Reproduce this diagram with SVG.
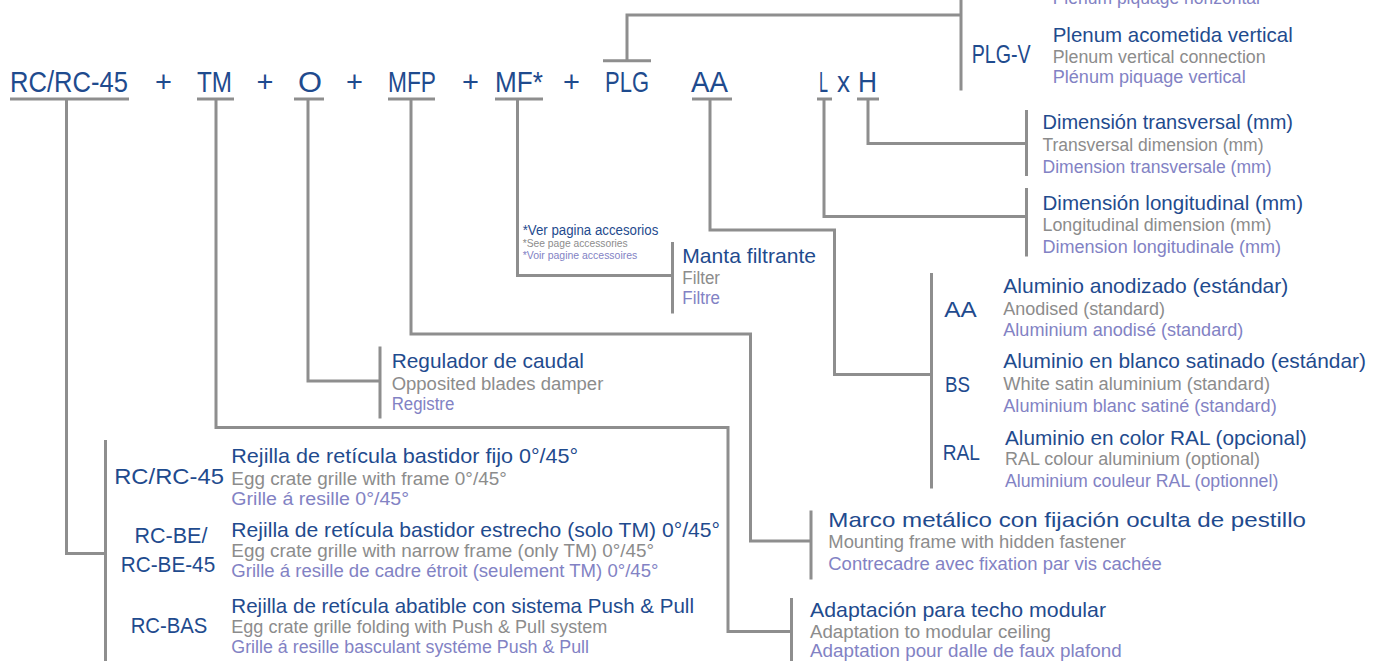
<svg xmlns="http://www.w3.org/2000/svg" width="1378" height="661" viewBox="0 0 1378 661">
<style>
text{font-family:"Liberation Sans",Arial,sans-serif}
.c{fill:#1f4b8e;font-size:29px}
.k{fill:#1f4b8e;font-size:22px}
.t{fill:#1f4b8e;font-size:21px}
.e{fill:#8c8c8c;font-size:17.5px}
.f{fill:#8282c4;font-size:17.5px}
.ln{fill:none;stroke:#8e8e8e;stroke-width:3}
</style>
<rect width="1378" height="661" fill="#fff"/>
<g id="connectors" class="ln">
<path d="M10 99H129M197 99H234M294 99H324M388 99H435M495 99H543M692 99H732M817 99H832M857 99H879M603 60.7H651"/>
<path d="M66.5 99V553.5H105.5M105.5 440V661"/>
<path d="M216 99V427.5H728V631.5H791.5M791.5 598V661"/>
<path d="M308 99V381H380M380 346.5V418.5"/>
<path d="M411 99V334H750.5V541H811M811 510.5V579.5"/>
<path d="M517.5 99V275.5H672.5M672.5 242V313.5"/>
<path d="M627 60.7V15H961M961 0V90.5"/>
<path d="M710 99V230H834.5V374.5H931.5M931.5 273V488.5"/>
<path d="M824 99V216.5H1026.5M868 99V143.5H1026.5M1026.5 110V176M1026.5 188V256.5"/>
</g>
<g id="code">
<text class="c" x="10" y="92" textLength="118" lengthAdjust="spacingAndGlyphs">RC/RC-45</text>
<text class="c" x="163.5" y="92" text-anchor="middle">+</text>
<text class="c" x="197" y="92" textLength="35" lengthAdjust="spacingAndGlyphs">TM</text>
<text class="c" x="265" y="92" text-anchor="middle">+</text>
<text class="c" x="298" y="92" textLength="24" lengthAdjust="spacingAndGlyphs">O</text>
<text class="c" x="354.5" y="92" text-anchor="middle">+</text>
<text class="c" x="388" y="92" textLength="48" lengthAdjust="spacingAndGlyphs">MFP</text>
<text class="c" x="470.5" y="92" text-anchor="middle">+</text>
<text class="c" x="495" y="92" textLength="48" lengthAdjust="spacingAndGlyphs">MF*</text>
<text class="c" x="571.5" y="92" text-anchor="middle">+</text>
<text class="c" x="605" y="92" textLength="44" lengthAdjust="spacingAndGlyphs">PLG</text>
<text class="c" x="691" y="92" textLength="37" lengthAdjust="spacingAndGlyphs">AA</text>
<text class="c" x="819" y="92" textLength="9" lengthAdjust="spacingAndGlyphs">L</text>
<text class="c" x="837" y="92" textLength="13" lengthAdjust="spacingAndGlyphs">x</text>
<text class="c" x="858" y="92" textLength="19" lengthAdjust="spacingAndGlyphs">H</text>
</g>
<g id="plg">
<text class="f" x="1052.7" y="4">Plénum piquage horizontal</text>
<text class="k" x="971.7" y="63.3" style="font-size:25px" textLength="59" lengthAdjust="spacingAndGlyphs">PLG-V</text>
<text class="t" x="1052.7" y="42.3" textLength="240" lengthAdjust="spacingAndGlyphs">Plenum acometida vertical</text>
<text class="e" x="1052.7" y="63.3" textLength="213" lengthAdjust="spacingAndGlyphs">Plenum vertical connection</text>
<text class="f" x="1052.7" y="83.3" textLength="193" lengthAdjust="spacingAndGlyphs">Plénum piquage vertical</text>
</g>
<g id="dim-h">
<text class="t" x="1042.5" y="129.3" textLength="250.5" lengthAdjust="spacingAndGlyphs">Dimensión transversal (mm)</text>
<text class="e" x="1042.5" y="150.7" textLength="221" lengthAdjust="spacingAndGlyphs">Transversal dimension (mm)</text>
<text class="f" x="1042.5" y="173" textLength="229" lengthAdjust="spacingAndGlyphs">Dimension transversale (mm)</text>
</g>
<g id="dim-l">
<text class="t" x="1042.5" y="210" textLength="260.5" lengthAdjust="spacingAndGlyphs">Dimensión longitudinal (mm)</text>
<text class="e" x="1042.5" y="231" textLength="229" lengthAdjust="spacingAndGlyphs">Longitudinal dimension (mm)</text>
<text class="f" x="1042.5" y="252.7" textLength="238.5" lengthAdjust="spacingAndGlyphs">Dimension longitudinale (mm)</text>
</g>
<g id="manta">
<text x="522.7" y="235" style="fill:#1f4b8e;font-size:14px" textLength="135.6" lengthAdjust="spacingAndGlyphs">*Ver pagina accesorios</text>
<text x="522.7" y="246.7" style="fill:#8c8c8c;font-size:10.5px" textLength="105" lengthAdjust="spacingAndGlyphs">*See page accessories</text>
<text x="522.7" y="259.3" style="fill:#8282c4;font-size:10.5px" textLength="114.6" lengthAdjust="spacingAndGlyphs">*Voir pagine accessoires</text>
<text class="t" x="682.3" y="263.3" textLength="133.7" lengthAdjust="spacingAndGlyphs">Manta filtrante</text>
<text class="e" x="682.3" y="284" textLength="37.7" lengthAdjust="spacingAndGlyphs">Filter</text>
<text class="f" x="682.3" y="304.3" textLength="37.7" lengthAdjust="spacingAndGlyphs">Filtre</text>
</g>
<g id="finish">
<text class="k" x="944.3" y="316.7" textLength="32.4" lengthAdjust="spacingAndGlyphs">AA</text>
<text class="t" x="1003.3" y="293.3" textLength="285" lengthAdjust="spacingAndGlyphs">Aluminio anodizado (estándar)</text>
<text class="e" x="1003.3" y="315" textLength="161.7" lengthAdjust="spacingAndGlyphs">Anodised (standard)</text>
<text class="f" x="1003.3" y="336" textLength="240" lengthAdjust="spacingAndGlyphs">Aluminium anodisé (standard)</text>
<text class="k" x="945" y="391.7" textLength="25" lengthAdjust="spacingAndGlyphs">BS</text>
<text class="t" x="1003.3" y="368.3" textLength="362.7" lengthAdjust="spacingAndGlyphs">Aluminio en blanco satinado (estándar)</text>
<text class="e" x="1003.3" y="390" textLength="266.7" lengthAdjust="spacingAndGlyphs">White satin aluminium (standard)</text>
<text class="f" x="1003.3" y="411.7" textLength="273.4" lengthAdjust="spacingAndGlyphs">Aluminium blanc satiné (standard)</text>
<text class="k" x="942.7" y="460" textLength="37.3" lengthAdjust="spacingAndGlyphs">RAL</text>
<text class="t" x="1005" y="445" textLength="301.7" lengthAdjust="spacingAndGlyphs">Aluminio en color RAL (opcional)</text>
<text class="e" x="1005" y="465" textLength="255" lengthAdjust="spacingAndGlyphs">RAL colour aluminium (optional)</text>
<text class="f" x="1005" y="486.7" textLength="273.3" lengthAdjust="spacingAndGlyphs">Aluminium couleur RAL (optionnel)</text>
</g>
<g id="regulador">
<text class="t" x="391.7" y="368" textLength="192.3" lengthAdjust="spacingAndGlyphs">Regulador de caudal</text>
<text class="e" x="391.7" y="390" textLength="211.6" lengthAdjust="spacingAndGlyphs">Opposited blades damper</text>
<text class="f" x="391.7" y="410" textLength="62.6" lengthAdjust="spacingAndGlyphs">Registre</text>
</g>
<g id="marco">
<text class="t" x="828.3" y="526.7" textLength="477.7" lengthAdjust="spacingAndGlyphs">Marco metálico con fijación oculta de pestillo</text>
<text class="e" x="828.3" y="548.3" textLength="297.7" lengthAdjust="spacingAndGlyphs">Mounting frame with hidden fastener</text>
<text class="f" x="828.3" y="570" textLength="333.4" lengthAdjust="spacingAndGlyphs">Contrecadre avec fixation par vis cachée</text>
</g>
<g id="adaptacion">
<text class="t" x="810" y="616.7" textLength="296" lengthAdjust="spacingAndGlyphs">Adaptación para techo modular</text>
<text class="e" x="810" y="638.3" textLength="241" lengthAdjust="spacingAndGlyphs">Adaptation to modular ceiling</text>
<text class="f" x="810" y="656.7" textLength="311.7" lengthAdjust="spacingAndGlyphs">Adaptation pour dalle de faux plafond</text>
</g>
<g id="rc">
<text class="k" x="114.2" y="484" textLength="109.7" lengthAdjust="spacingAndGlyphs">RC/RC-45</text>
<text class="t" x="231.3" y="463.3" textLength="346.9" lengthAdjust="spacingAndGlyphs">Rejilla de retícula bastidor fijo 0°/45°</text>
<text class="e" x="231.3" y="485" textLength="275.4" lengthAdjust="spacingAndGlyphs">Egg crate grille with frame 0°/45°</text>
<text class="f" x="231.3" y="505" textLength="177.8" lengthAdjust="spacingAndGlyphs">Grille á resille 0°/45°</text>
</g>
<g id="rc-be">
<text class="k" x="134.6" y="543.3" textLength="72.8" lengthAdjust="spacingAndGlyphs">RC-BE/</text>
<text class="k" x="120.7" y="571.7" textLength="94.5" lengthAdjust="spacingAndGlyphs">RC-BE-45</text>
<text class="t" x="231.3" y="536.7" textLength="488.7" lengthAdjust="spacingAndGlyphs">Rejilla de retícula bastidor estrecho (solo TM) 0°/45°</text>
<text class="e" x="231.3" y="556.7" textLength="422.7" lengthAdjust="spacingAndGlyphs">Egg crate grille with narrow frame (only TM) 0°/45°</text>
<text class="f" x="231.3" y="576.7" textLength="427.1" lengthAdjust="spacingAndGlyphs">Grille á resille de cadre étroit (seulement TM) 0°/45°</text>
</g>
<g id="rc-bas">
<text class="k" x="130.7" y="633.3" textLength="76.7" lengthAdjust="spacingAndGlyphs">RC-BAS</text>
<text class="t" x="231.3" y="612.7" textLength="462.7" lengthAdjust="spacingAndGlyphs">Rejilla de retícula abatible con sistema Push &amp; Pull</text>
<text class="e" x="231.3" y="633.3" textLength="376" lengthAdjust="spacingAndGlyphs">Egg crate grille folding with Push &amp; Pull system</text>
<text class="f" x="231.3" y="653.3" textLength="357.7" lengthAdjust="spacingAndGlyphs">Grille á resille basculant systéme Push &amp; Pull</text>
</g>
</svg>
